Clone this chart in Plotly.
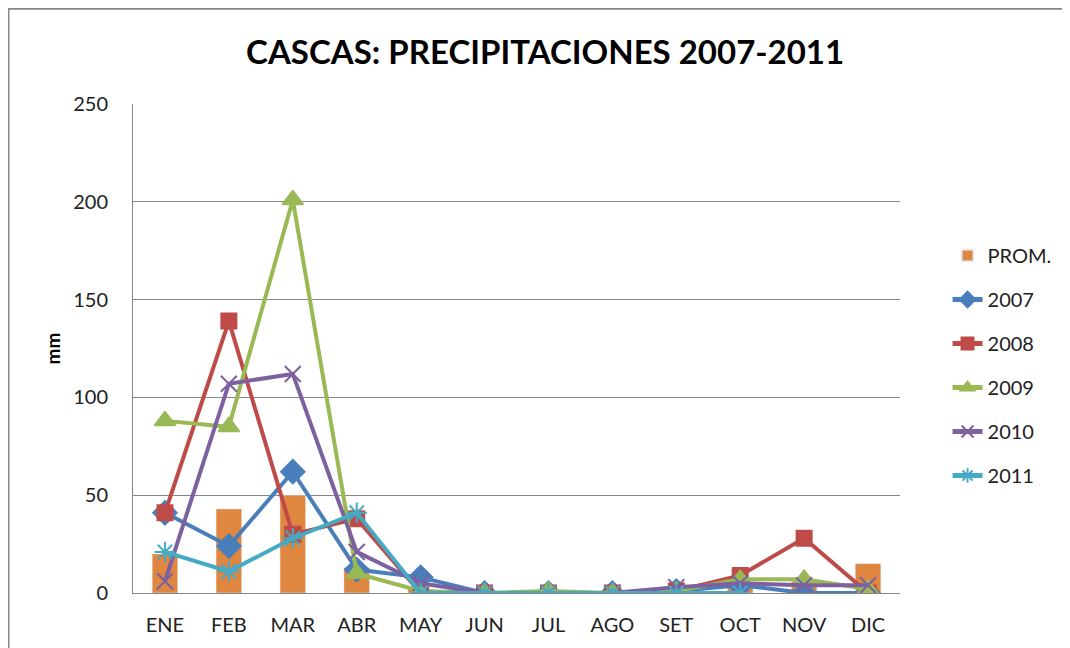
import plotly.graph_objects as go

months = ["ENE", "FEB", "MAR", "ABR", "MAY", "JUN", "JUL", "AGO", "SET", "OCT", "NOV", "DIC"]
prom = [20, 43, 50, 13, 2, 0, 0, 0, 1, 5, 6, 15]
y2007 = [41, 24, 62, 12, 8, 0, 0, 0, 1, 4, 0, 0]
y2008 = [41, 139, 30, 38, 0, 0, 0, 0, 1, 9, 28, 0]
y2009 = [88, 85, 201, 10, 1, 0, 1, 0, 1, 7, 7, 2]
y2010 = [6, 107, 112, 21, 5, 0, 0, 0, 3, 5, 4, 4]
y2011 = [21, 11, 28, 41, 0, 0, 0, 0, 0, 0, None, None]

FONT = "Lato"

fig = go.Figure()
fig.add_trace(go.Bar(x=months, y=prom, name="PROM.", marker=dict(color="#DF8641"),
                     width=0.4, legendgroup="p"))

series = [
    ("2007", y2007, "#4A7EBB", "diamond", 18),
    ("2008", y2008, "#BE4B48", "square", 15),
    ("2009", y2009, "#98B954", "triangle-up", 18),
    ("2010", y2010, "#7D60A0", "x-thin-open", 16),
    ("2011", y2011, "#46AAC5", "asterisk-open", 17),
]
for name, vals, col, sym, sz in series:
    fig.add_trace(go.Scatter(
        x=months, y=vals, name=name, mode="lines+markers", legendgroup=name,
        line=dict(color=col, width=4),
        marker=dict(symbol=sym, size=sz, color=col, line=dict(color=col, width=2)),
    ))

fig.update_layout(
    width=1070, height=648,
    margin=dict(l=125, r=178, t=96, b=63),
    paper_bgcolor="white", plot_bgcolor="white",
    font=dict(family=FONT, size=20, color="#222222"),
    title=dict(text="<b>CASCAS: PRECIPITACIONES 2007-2011</b>", x=0.502, xanchor="center",
               y=0.932, yanchor="middle", font=dict(family=FONT, size=33, color="black")),
    showlegend=True,
    legend=dict(x=1.062, y=0.73, xanchor="left", yanchor="top",
                font=dict(family=FONT, size=20, color="#222222"),
                tracegroupgap=15, itemsizing="constant", bgcolor="rgba(0,0,0,0)"),
    bargap=0.6,
)
fig.update_xaxes(range=[-0.5, 11.5], showline=True, linecolor="#868686", linewidth=1, ticks="",
                 tickfont=dict(size=20), showgrid=False, ticklabelstandoff=14)
fig.update_yaxes(range=[0, 250], dtick=50, showline=True, linecolor="#868686", linewidth=1,
                 gridcolor="#868686", gridwidth=1, zeroline=False, ticks="",
                 tickfont=dict(size=20), ticklabelstandoff=20,
                 title=dict(text="<b>mm</b>", font=dict(size=19, color="black"), standoff=7))

fig.add_shape(type="rect", xref="paper", yref="paper", x0=-0.163, x1=1.232, y0=-0.129, y1=1.196,
              line=dict(color="#868686", width=3), fillcolor="rgba(0,0,0,0)", layer="below")

fig.write_html("out.html")
